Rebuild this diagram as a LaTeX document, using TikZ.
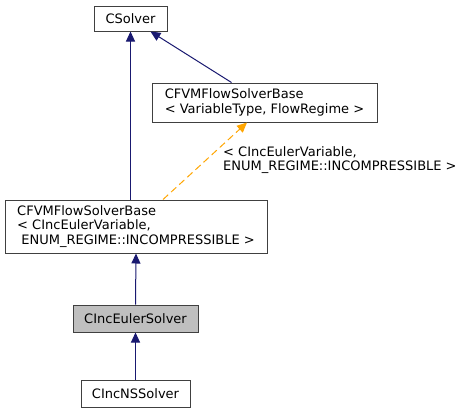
\documentclass[tikz,border=0pt]{standalone}
\usepackage{fontspec}
\setmainfont{DejaVu Sans}
\usepackage{tikz}
\usetikzlibrary{arrows.meta,calc,positioning}
\usepackage{xcolor}
\definecolor{edgeblue}{HTML}{191970}
\definecolor{edgeorange}{HTML}{FFA500}
\definecolor{boxgray}{HTML}{BFBFBF}
\definecolor{boxline}{HTML}{404040}

\begin{document}
\begin{tikzpicture}[x=1pt, y=-1pt,
  every node/.style={font=\fontsize{13}{14.8}\selectfont},
  cls/.style={draw=boxline, line width=1pt, inner sep=0pt, align=left},
  inh/.style={draw=edgeblue, line width=1pt, -{Triangle[width=9pt,length=10pt]}},
  tmpl/.style={draw=edgeorange, line width=1pt, dash pattern=on 7pt off 4pt, -{Triangle[width=9pt,length=10pt]}}]
\useasboundingbox (0,0) rectangle (464,413);
% Classi
\node[cls, minimum width=73, minimum height=25] (csolver) at (130.5,18.5) {CSolver};
\node[cls, minimum width=225, minimum height=39] (base) at (264.5,102.5)
  {CFVMFlowSolverBase\\< VariableType, FlowRegime >};
\node[cls, minimum width=262, minimum height=53] (baseinc) at (136,226.5)
  {CFVMFlowSolverBase\\< CIncEulerVariable,\\\ ENUM\_REGIME::INCOMPRESSIBLE >};
\node[cls, fill=boxgray, minimum width=125, minimum height=27] (euler) at (135.5,318.5) {CIncEulerSolver};
\node[cls, minimum width=109, minimum height=27] (ns) at (135.5,393.5) {CIncNSSolver};
% Ereditarieta'
\draw[inh] (csolver.south |- baseinc.north) -- (csolver.south);
\draw[inh] ($(base.north)+(-33,0)$) -- ($(csolver.south)+(20,0)$);
\foreach \a/\b in {euler/baseinc, ns/euler}{
  \draw[inh] (\a.north) -- (\b.south);
}
% Istanza del template
\draw[tmpl] ($(baseinc.north)+(27,0)$) -- ($(base.south)+(-17.5,0)$);
\node[anchor=north west, align=left, inner sep=0pt] (targs) at (223,146)
  {< CIncEulerVariable,\\ENUM\_REGIME::INCOMPRESSIBLE >};
\end{tikzpicture}
\end{document}
